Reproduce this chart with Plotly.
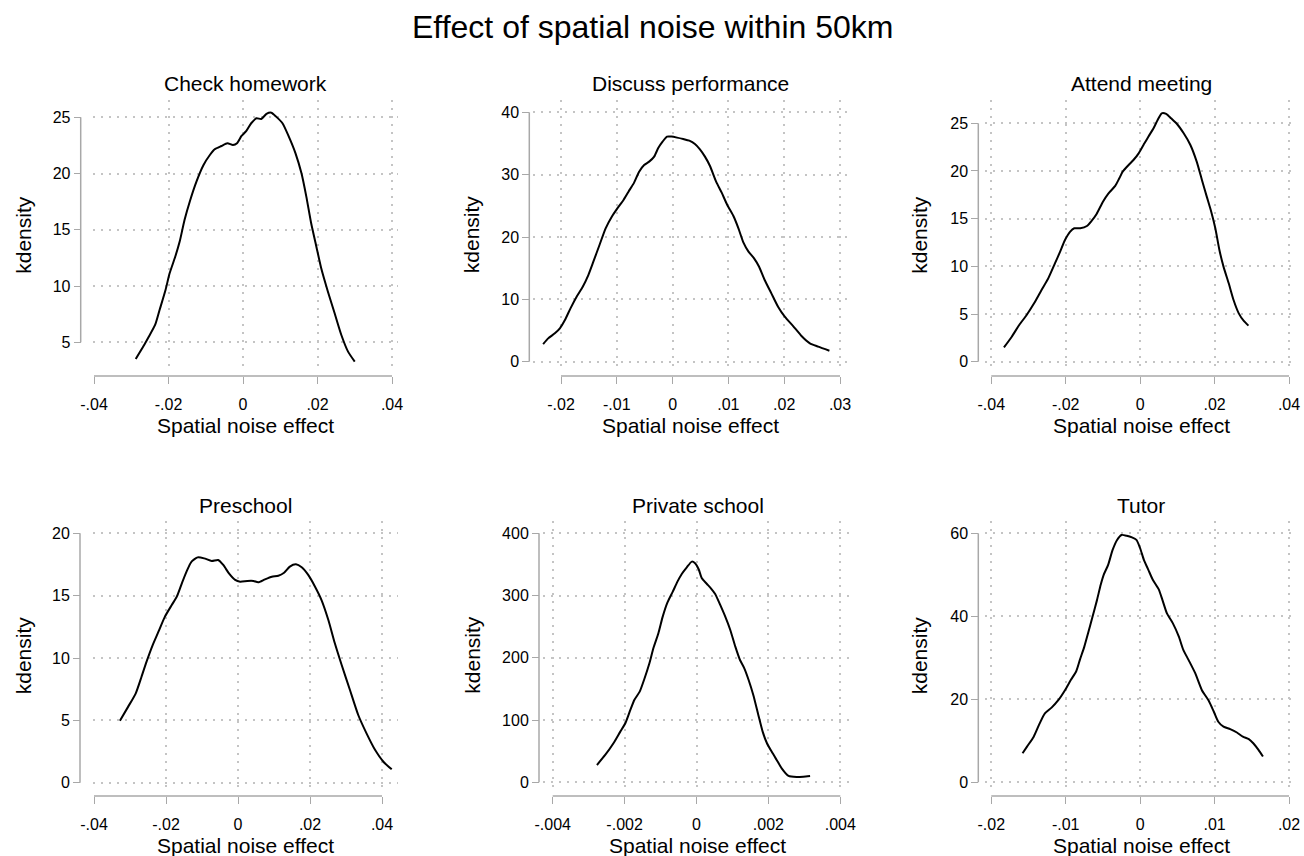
import plotly.graph_objects as go

W, H = 1304, 856

# ---------------- data ----------------
titles = ["Check homework", "Discuss performance", "Attend meeting",
          "Preschool", "Private school", "Tutor"]

homework_x = [-0.0288, -0.0267, -0.0253, -0.0236, -0.0224, -0.0208, -0.0197, -0.0182, -0.0170, -0.0157,
              -0.0143, -0.0125, -0.0106, -0.0089, -0.0076, -0.0058, -0.0042, -0.0027, -0.0016, -0.0004,
              0.0009, 0.0022, 0.0036, 0.0049, 0.0063, 0.0076, 0.0089, 0.0106, 0.0123, 0.0141,
              0.0157, 0.0170, 0.0183, 0.0197, 0.0210, 0.0228, 0.0246, 0.0264, 0.0282, 0.0300]
homework_y = [3.52, 4.67, 5.5, 6.54, 7.87, 9.65, 11.13, 12.6, 13.95, 15.87,
              17.5, 19.28, 20.76, 21.65, 22.16, 22.45, 22.69, 22.54, 22.69, 23.34,
              23.79, 24.47, 24.91, 24.85, 25.3, 25.41, 25.06, 24.47, 23.28, 21.8,
              20.02, 17.95, 15.58, 13.5, 11.58, 9.5, 7.58, 5.65, 4.17, 3.28]

discuss_x = [-0.0232, -0.0223, -0.0211, -0.0202, -0.0193, -0.0183, -0.0172, -0.0161, -0.0151, -0.0142,
             -0.0131, -0.0120, -0.0109, -0.0099, -0.0088, -0.0079, -0.0069, -0.0060, -0.0051, -0.0042,
             -0.0033, -0.0026, -0.0018, -0.0010, -0.0002, 0.0008, 0.0019, 0.0030, 0.0040, 0.0049,
             0.0058, 0.0067, 0.0078, 0.0088, 0.0098, 0.0109, 0.0118, 0.0127, 0.0136, 0.0146,
             0.0155, 0.0165, 0.0177, 0.0189, 0.0201, 0.0216, 0.0231, 0.0246, 0.0261, 0.0281]
discuss_y = [2.83, 3.74, 4.55, 5.35, 6.68, 8.56, 10.43, 12.03, 13.9, 16.04,
             18.72, 21.39, 23.26, 24.6, 25.94, 27.27, 28.72, 30.48, 31.55, 32.09,
             32.89, 34.22, 35.29, 36.1, 36.1, 35.94, 35.72, 35.45, 34.92, 34.06,
             32.89, 31.39, 28.88, 27.11, 25.13, 23.37, 21.39, 19.09, 17.65, 16.58,
             15.24, 13.1, 10.96, 8.82, 7.22, 5.72, 4.12, 2.94, 2.41, 1.76]

meeting_x = [-0.0366, -0.0345, -0.0325, -0.0305, -0.0285, -0.0265, -0.0247, -0.0229, -0.0215, -0.0202,
             -0.0188, -0.0177, -0.0161, -0.0143, -0.0130, -0.0117, -0.0100, -0.0085, -0.0067, -0.0056,
             -0.0047, -0.0031, -0.0018, -0.0004, 0.0009, 0.0022, 0.0036, 0.0047, 0.0058, 0.0070,
             0.0083, 0.0099, 0.0117, 0.0135, 0.0152, 0.0166, 0.0179, 0.0191, 0.0202, 0.0213,
             0.0224, 0.0238, 0.0251, 0.0265, 0.0278, 0.0291]
meeting_y = [1.50, 2.62, 3.85, 4.9, 6.12, 7.52, 8.74, 10.31, 11.54, 12.76,
             13.64, 13.99, 13.99, 14.23, 14.79, 15.49, 16.78, 17.66, 18.43, 19.23,
             19.93, 20.63, 21.15, 21.85, 22.73, 23.6, 24.48, 25.35, 26.05, 25.98,
             25.52, 24.93, 23.95, 22.73, 20.98, 19.06, 17.31, 15.73, 13.99, 11.71,
             9.97, 8.22, 6.47, 5.07, 4.30, 3.78]

preschool_x = [-0.0328, -0.0305, -0.0284, -0.0268, -0.0254, -0.0237, -0.0221, -0.0203, -0.0184, -0.0170,
               -0.0156, -0.0143, -0.0129, -0.0112, -0.0094, -0.0073, -0.0055, -0.0041, -0.0024, -0.0008,
               0.0006, 0.0026, 0.0043, 0.0056, 0.0075, 0.0094, 0.0112, 0.0128, 0.0144, 0.0161,
               0.0177, 0.0195, 0.0214, 0.0232, 0.0251, 0.0269, 0.0288, 0.0311, 0.0334, 0.0357,
               0.0381, 0.0404, 0.0427]
preschool_y = [4.97, 6.10, 7.17, 8.5, 9.71, 11.04, 12.11, 13.32, 14.25, 14.92,
               15.99, 16.93, 17.73, 18.07, 17.99, 17.78, 17.86, 17.46, 16.74, 16.26,
               16.12, 16.18, 16.18, 16.07, 16.31, 16.52, 16.6, 16.84, 17.33, 17.51,
               17.27, 16.66, 15.72, 14.65, 13.05, 11.18, 9.44, 7.43, 5.43, 3.96,
               2.62, 1.68, 1.07]

private_x = [-0.00277, -0.00254, -0.00231, -0.00212, -0.00198, -0.00184, -0.00173, -0.00158, -0.00146, -0.00131,
             -0.00120, -0.00106, -0.00094, -0.00081, -0.00066, -0.00053, -0.00041, -0.00027, -0.00013, -0.00004,
             0.00006, 0.00015, 0.00029, 0.00040, 0.00052, 0.00066, 0.00080, 0.00094, 0.00108, 0.00121,
             0.00133, 0.00145, 0.00158, 0.00172, 0.00184, 0.00196, 0.00209, 0.00223, 0.00237, 0.00256,
             0.00279, 0.00297, 0.00316]
private_y = [27.8, 43.9, 62.7, 81.4, 94.8, 116.2, 132.3, 145.6, 164.4, 191.2,
             215.3, 239.4, 266.1, 288.6, 306.3, 322.4, 334.7, 345.4, 354.5, 351.8,
             342.2, 327.7, 318.6, 311.6, 302.5, 284.9, 266.1, 244.7, 217.9, 196.5,
             183.1, 164.4, 140.3, 108.2, 81.4, 62.7, 49.3, 35.9, 22.5, 10.2,
             8.6, 9.1, 10.2]

tutor_x = [-0.0158, -0.0152, -0.0143, -0.0135, -0.0128, -0.0119, -0.0110, -0.0101, -0.0093, -0.0086,
           -0.0081, -0.0075, -0.0070, -0.0064, -0.0058, -0.0053, -0.0049, -0.0043, -0.0037, -0.0031,
           -0.0025, -0.0018, -0.0011, -0.0005, 0.0000, 0.0005, 0.0011, 0.0017, 0.0025, 0.0030,
           0.0036, 0.0044, 0.0052, 0.0058, 0.0065, 0.0074, 0.0083, 0.0092, 0.0099, 0.0105,
           0.0112, 0.0121, 0.0130, 0.0138, 0.0146, 0.0152, 0.0159, 0.0165]
tutor_y = [6.99, 8.59, 11.0, 14.2, 16.6, 18.0, 19.8, 22.2, 24.7, 26.7,
           29.5, 32.7, 35.9, 39.9, 43.9, 47.6, 50.0, 52.4, 56.0, 58.4,
           59.6, 59.4, 59.0, 58.4, 56.4, 53.6, 51.2, 48.8, 46.5, 43.9,
           40.7, 38.3, 35.1, 31.9, 29.5, 26.3, 22.2, 19.7, 17.0, 14.6,
           13.4, 12.8, 12.0, 11.0, 10.4, 9.4, 7.8, 6.2]

x_tickvals = [[-0.04, -0.02, 0, 0.02, 0.04],
              [-0.02, -0.01, 0, 0.01, 0.02, 0.03],
              [-0.04, -0.02, 0, 0.02, 0.04],
              [-0.04, -0.02, 0, 0.02, 0.04],
              [-0.004, -0.002, 0, 0.002, 0.004],
              [-0.02, -0.01, 0, 0.01, 0.02]]
x_ticktext = [["-.04", "-.02", "0", ".02", ".04"],
              ["-.02", "-.01", "0", ".01", ".02", ".03"],
              ["-.04", "-.02", "0", ".02", ".04"],
              ["-.04", "-.02", "0", ".02", ".04"],
              ["-.004", "-.002", "0", ".002", ".004"],
              ["-.02", "-.01", "0", ".01", ".02"]]
y_tickvals = [[5, 10, 15, 20, 25],
              [0, 10, 20, 30, 40],
              [0, 5, 10, 15, 20, 25],
              [0, 5, 10, 15, 20],
              [0, 100, 200, 300, 400],
              [0, 20, 40, 60]]

series = [(homework_x, homework_y), (discuss_x, discuss_y), (meeting_x, meeting_y),
          (preschool_x, preschool_y), (private_x, private_y), (tutor_x, tutor_y)]

main_title = "Effect of spatial noise within 50km"
x_title = "Spatial noise effect"
y_title = "kdensity"

# ---------------- layout geometry (pixels) ----------------
# region: plot region (x0, x1, ytop, ybottom); xcal/ycal: two (value, pixel) pairs
geom = [
    dict(region=(93, 398, 100, 369), xcal=((-0.04, 94), (0.04, 392)), ycal=((25, 117.3), (5, 342.3)),
         yline=80.7, xline=376, ytitle=23.3),
    dict(region=(533, 848, 100, 369), xcal=((-0.02, 561), (0.03, 840)), ycal=((40, 112.3), (0, 361.7)),
         yline=529.3, xline=376, ytitle=471.7),
    dict(region=(985, 1297, 100, 369), xcal=((-0.04, 991.3), (0.04, 1289)), ycal=((25, 123.3), (0, 361.7)),
         yline=978.3, xline=376, ytitle=919.3),
    dict(region=(93, 398, 521, 789), xcal=((-0.04, 94), (0.04, 382)), ycal=((20, 533.3), (0, 782.7)),
         yline=80.0, xline=796, ytitle=23.3),
    dict(region=(543, 852, 521, 789), xcal=((-0.004, 552.7), (0.004, 840.3)), ycal=((400, 533.3), (0, 782.3)),
         yline=539.0, xline=796, ytitle=471.7),
    dict(region=(985, 1297, 521, 789), xcal=((-0.02, 991.3), (0.02, 1289)), ycal=((60, 533.3), (0, 782.3)),
         yline=978.3, xline=796, ytitle=919.3),
]
title_y = [84, 84, 84, 505, 505, 505]
xtitle_y = [425, 425, 425, 845, 845, 845]

FONT = "Liberation Sans, Arial, sans-serif"
AXIS_COLOR = "#a8a8a8"
GRID_COLOR = "#c4c4c4"


def inv(cal, p):
    (v1, p1), (v2, p2) = cal
    s = (p2 - p1) / (v2 - v1)
    return v1 + (p - p1) / s


fig = go.Figure()
layout = dict(width=W, height=H, margin=dict(l=0, r=0, t=0, b=0, autoexpand=False),
              paper_bgcolor="white", plot_bgcolor="white", showlegend=False,
              font=dict(family=FONT, color="black"))
shapes, annotations = [], []

for i, g in enumerate(geom):
    n = "" if i == 0 else str(i + 1)
    x0, x1, yt, yb = g["region"]
    xr = [inv(g["xcal"], x0), inv(g["xcal"], x1)]
    yr = [inv(g["ycal"], yb), inv(g["ycal"], yt)]
    xs, ys = series[i]
    fig.add_trace(go.Scatter(x=xs, y=ys, mode="lines", xaxis="x" + n, yaxis="y" + n,
                             line=dict(color="black", width=2, shape="spline", smoothing=0.6),
                             hoverinfo="skip"))
    layout["xaxis" + n] = dict(domain=[x0 / W, x1 / W], range=xr, anchor="free",
                               position=1 - g["xline"] / H, automargin=False,
                               tickvals=x_tickvals[i], ticktext=x_ticktext[i],
                               ticks="outside", ticklen=7, tickwidth=1.3, tickcolor=AXIS_COLOR,
                               showline=False, zeroline=False,
                               showgrid=True, gridcolor=GRID_COLOR, gridwidth=1.5, griddash="2px,6px",
                               tickfont=dict(size=16, family=FONT, color="black"),
                               ticklabelstandoff=7, fixedrange=True)
    layout["yaxis" + n] = dict(domain=[1 - yb / H, 1 - yt / H], range=yr, anchor="free",
                               position=g["yline"] / W, automargin=False,
                               tickvals=y_tickvals[i],
                               ticks="outside", ticklen=7, tickwidth=1.3, tickcolor=AXIS_COLOR,
                               showline=False, zeroline=False,
                               showgrid=True, gridcolor=GRID_COLOR, gridwidth=1.5, griddash="2px,6px",
                               tickfont=dict(size=16, family=FONT, color="black"),
                               fixedrange=True)
    # axis lines spanning tick range (Stata style)
    shapes.append(dict(type="line", xref="x" + n, yref="paper",
                       x0=min(x_tickvals[i]), x1=max(x_tickvals[i]),
                       y0=1 - g["xline"] / H, y1=1 - g["xline"] / H,
                       line=dict(color=AXIS_COLOR, width=1.5)))
    shapes.append(dict(type="line", xref="paper", yref="y" + n,
                       x0=g["yline"] / W, x1=g["yline"] / W,
                       y0=min(y_tickvals[i]), y1=max(y_tickvals[i]),
                       line=dict(color=AXIS_COLOR, width=1.5)))
    cx = (x0 + x1) / 2 / W
    annotations.append(dict(text=titles[i], x=cx, y=1 - title_y[i] / H, xref="paper", yref="paper",
                            xanchor="center", yanchor="middle", showarrow=False,
                            font=dict(size=21, family=FONT, color="black")))
    annotations.append(dict(text=x_title, x=cx, y=1 - xtitle_y[i] / H, xref="paper", yref="paper",
                            xanchor="center", yanchor="middle", showarrow=False,
                            font=dict(size=21, family=FONT, color="black")))
    annotations.append(dict(text=y_title, x=g["ytitle"] / W, y=1 - (yt + yb) / 2 / H,
                            xref="paper", yref="paper", textangle=-90,
                            xanchor="center", yanchor="middle", showarrow=False,
                            font=dict(size=21, family=FONT, color="black")))

annotations.append(dict(text=main_title, x=0.5, y=1 - 27 / H, xref="paper", yref="paper",
                        xanchor="center", yanchor="middle", showarrow=False,
                        font=dict(size=32, family=FONT, color="black")))

layout["shapes"] = shapes
layout["annotations"] = annotations
fig.update_layout(**layout)
fig.write_html("out.html")
